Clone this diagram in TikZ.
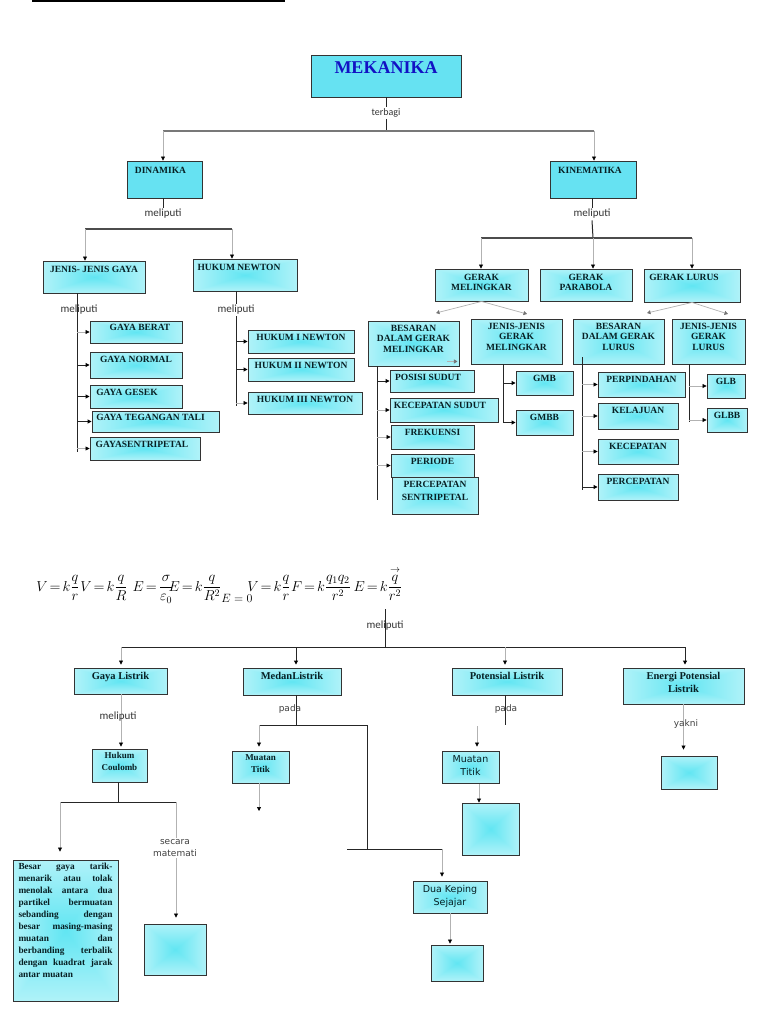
\documentclass[tikz,border=0pt]{standalone}
\usepackage{amsmath}
\usepackage{fontspec}
\setmainfont{Liberation Serif}
\newfontfamily\kalibri{Carlito}
\newfontfamily\dejavu{DejaVu Sans}
\usetikzlibrary{arrows.meta,positioning}
\definecolor{sian}{RGB}{102,226,242}
\definecolor{tinta}{RGB}{8,32,36}
\definecolor{biru}{RGB}{18,18,196}
\definecolor{abu}{RGB}{120,120,120}
% kotak bergradasi: sian di tengah, putih di tepi
\pgfdeclarefunctionalshading{kaca}{\pgfpoint{-50bp}{-50bp}}{\pgfpoint{50bp}{50bp}}{}{
  abs exch abs 2 copy lt {exch} if pop 50 div
  dup 0.62 mul 0.38 add exch
  dup 0.10 mul 0.90 add exch
  0.05 mul 0.95 add
}

\begin{document}
\begin{tikzpicture}[x=1pt,y=-1pt,
  padat/.style={draw=black!80,line width=0.9pt,fill=sian,inner sep=0pt},
  kilau/.style={draw=black!80,line width=0.9pt,shade,shading=kaca,inner sep=0pt},
  judul/.style={anchor=north,yshift=-#1,inner sep=1pt,align=center,text=tinta,
    font=\bfseries\fontsize{9.5}{10.5}\selectfont},
  judul/.default=3pt,
  judulb/.style={judul=#1,font=\bfseries\fontsize{10.5}{13}\selectfont},
  judulb/.default=3pt,
  judulc/.style={judul=#1,font=\dejavu\fontsize{9.5}{13}\selectfont},
  judulc/.default=3.5pt,
  ket/.style={font=\kalibri\fontsize{11}{12}\selectfont,text=black!80,inner sep=1.5pt},
  ketd/.style={font=\dejavu\fontsize{9}{12}\selectfont,text=black!75,inner sep=1pt,align=center},
  rumus/.style={anchor=base,inner sep=0pt,font={\fontsize{14}{17}\selectfont\thickmuskip=2.5mu}},
  tulang/.style={line width=1pt,black!85},
  cabang/.style={line width=1.6pt,black!70},
  hub/.style={line width=2.4pt,abu},
  panah/.style={line width=0.7pt,black!30,-{Triangle[width=4pt,length=4pt,color=black]}},
  panahh/.style={line width=0.9pt,black!85,-{Triangle[width=4pt,length=4pt,color=black]}},
  panahpudar/.style={line width=0.7pt,black!30,-{Triangle[width=4pt,length=3.5pt,color=black!55]}}]
\fill[white] (0,0) rectangle (768,1024);
\useasboundingbox (0,0) rectangle (768,1024);
\draw[line width=2pt] (32,1) -- (285,1);

% mekanika
\node[padat,minimum width=150,minimum height=42,
  label={[judul=6pt,text=biru,font=\bfseries\fontsize{18}{20}\selectfont]north:MEKANIKA}] (mek) at (386,76) {};
\node[ket,font=\kalibri\fontsize{10}{12}\selectfont] (terbagi) at (386,113) {terbagi};
\node[padat,minimum width=75,minimum height=37,label={[judul=5pt,xshift=-4pt]north:DINAMIKA}] (din) at (164.5,179.5) {};
\node[padat,minimum width=86,minimum height=37,label={[judul=5pt,xshift=-3pt]north:KINEMATIKA}] (kin) at (593,179.5) {};
\coordinate (hubL) at (163,131);
\coordinate (hubM) at (386,131);
\coordinate (hubR) at (594,131);
\draw[tulang] (mek.south) -- (terbagi.north);
\draw[tulang] (terbagi.south) -- (hubM);
\draw[hub] (hubL) -- (hubR);
\draw[panah] (hubL) -- (hubL |- din.north);
\draw[panah] (hubR) -- (hubR |- kin.north);

% dinamika
\node[ket] (meldin) at (163,214) {meliputi};
\node[kilau,minimum width=102,minimum height=32,label={[judul=4pt]north:JENIS- JENIS GAYA}] (jg) at (94,277) {};
\node[kilau,minimum width=104,minimum height=32,label={[judul=4pt,xshift=-6pt]north:HUKUM NEWTON}] (hn) at (245,275) {};
\coordinate (dinL) at (85,229);
\coordinate (dinR) at (232,229);
\draw[tulang] (din.south -| meldin) -- (meldin.north);
\draw[cabang] (dinL) -- (dinR);
\draw[panah] (dinL) -- (dinL |- jg.north);
\draw[panah] (dinR) -- (dinR |- hn.north);

% jenis-jenis gaya
\node[kilau,minimum width=92,minimum height=22,label={[judul=2.5pt,xshift=4pt]north:GAYA BERAT}] (berat) at (136,332) {};
\node[kilau,minimum width=92,minimum height=26,label={[judul=3.5pt]north:GAYA NORMAL}] (normal) at (136,365) {};
\node[kilau,minimum width=92,minimum height=23,label={[judul=3.5pt,xshift=-9pt]north:GAYA GESEK}] (gesek) at (136,396.5) {};
\node[kilau,minimum width=127,minimum height=21,label={[judul=2.5pt,xshift=-5pt]north:GAYA TEGANGAN TALI}] (tali) at (155.5,421.5) {};
\node[kilau,minimum width=110,minimum height=23,label={[judul=3.5pt,xshift=-3pt]north:GAYASENTRIPETAL}] (sentri) at (145,448.5) {};
\coordinate (jgS) at (77,452);
\draw[tulang] (jg.south -| jgS) -- (jgS);
\node[ket] (meljg) at (79,310) {meliputi};
\draw[panah] (jgS |- berat.west) -- (berat.west);
\draw[panahh] (jgS |- normal.west) -- (normal.west);
\draw[panahh] (jgS |- gesek.west) -- (gesek.west);
\draw[panahh] (jgS |- tali.west) -- (tali.west);
\draw[panah] (jgS |- sentri.west) -- (sentri.west);

% hukum newton
\node[ket] (melhn) at (236,310) {meliputi};
\node[kilau,minimum width=106,minimum height=23,label={[judul=3pt]north:HUKUM I NEWTON}] (h1) at (301,341.5) {};
\node[kilau,minimum width=106,minimum height=23,label={[judul=3.5pt]north:HUKUM II NEWTON}] (h2) at (301,369.5) {};
\node[kilau,minimum width=114,minimum height=22,label={[judul=3pt]north:HUKUM III NEWTON}] (h3) at (305,403) {};
\coordinate (hnS) at (236,406);
\draw[tulang] (hn.south -| melhn) -- (melhn.north);
\draw[tulang] (melhn.south) -- (hnS);
\draw[panahh] (hnS |- h1.west) -- (h1.west);
\draw[panahh] (hnS |- h2.west) -- (h2.west);
\draw[panah] (hnS |- h3.west) -- (h3.west);

% kinematika
\node[ket] (melkin) at (592,214) {meliputi};
\node[kilau,minimum width=93,minimum height=32,label={[judul=4pt]north:{GERAK\\MELINGKAR}}] (gm) at (481.5,285) {};
\node[kilau,minimum width=92,minimum height=32,label={[judul=4pt]north:{GERAK\\PARABOLA}}] (gp) at (586,285) {};
\node[kilau,minimum width=96,minimum height=33,label={[judul=4pt,xshift=-8pt]north:GERAK LURUS}] (gl) at (692,285.5) {};
\coordinate (kinL) at (481,238);
\coordinate (kinM) at (593,238);
\coordinate (kinR) at (692,238);
\draw[tulang] (kin.south -| melkin) -- (melkin.north);
\draw[tulang] (melkin.south) -- (kinM);
\draw[cabang] (kinL) -- (kinR);
\draw[panah] (kinL) -- (kinL |- gm.north);
\draw[panah] (kinM) -- (kinM |- gp.north);
\draw[panah] (kinR) -- (kinR |- gl.north);

% besaran dan jenis gerak
\node[kilau,minimum width=91,minimum height=45,label={[judul=3pt]north:{BESARAN\\DALAM GERAK\\MELINGKAR}}] (bmel) at (413.5,343.5) {};
\node[kilau,minimum width=91,minimum height=45,label={[judul=3pt]north:{JENIS-JENIS\\GERAK\\MELINGKAR}}] (jmel) at (516.5,341.5) {};
\node[kilau,minimum width=91,minimum height=45,label={[judul=3pt]north:{BESARAN\\DALAM GERAK\\LURUS}}] (blur) at (618.5,341.5) {};
\node[kilau,minimum width=73,minimum height=45,label={[judul=3pt]north:{JENIS-JENIS\\GERAK\\LURUS}}] (jlur) at (708.5,341.5) {};
\coordinate (gmA) at (436,313);
\coordinate (gmB) at (527,314);
\coordinate (glA) at (647,313);
\coordinate (glB) at (728,314);
\draw[panahpudar] (gm.south) -- (gmA);
\draw[panahpudar] (gm.south) -- (gmB);
\draw[panahpudar] (gl.south) -- (glA);
\draw[panahpudar] (gl.south) -- (glB);
\draw[panahpudar] ([shift={(-12,-5)}]bmel.south east) -- ++(10,0);

% besaran gerak melingkar
\node[kilau,minimum width=84,minimum height=22,label={[judul=3.5pt,xshift=-4pt]north:POSISI SUDUT}] (posisi) at (432,381) {};
\node[kilau,minimum width=108,minimum height=24,label={[judul=3pt,xshift=-4pt]north:KECEPATAN SUDUT}] (kecsud) at (444,410) {};
\node[kilau,minimum width=83,minimum height=24,label={[judul=3.5pt]north:FREKUENSI}] (frek) at (432.5,437) {};
\node[kilau,minimum width=83,minimum height=23,label={[judul=3.5pt]north:PERIODE}] (periode) at (432.5,465.5) {};
\node[kilau,minimum width=86,minimum height=37,label={[judul=3pt]north:{PERCEPATAN\\[2.5pt]SENTRIPETAL}}] (pers) at (435,495.5) {};
\coordinate (bmelS) at (377,500);
\draw[tulang] (bmel.south -| bmelS) -- (bmelS);
\draw[panahh] (bmelS |- posisi.west) -- (posisi.west);
\draw[panah] (bmelS |- kecsud.west) -- (kecsud.west);
\draw[panah] (bmelS |- frek.west) -- (frek.west);
\draw[panah] (bmelS |- periode.west) -- (periode.west);

% jenis gerak melingkar
\node[kilau,minimum width=57,minimum height=24,label={[judul=3pt]north:GMB}] (gmb) at (544.5,383) {};
\node[kilau,minimum width=57,minimum height=25,label={[judul=3pt]north:GMBB}] (gmbb) at (544.5,422.5) {};
\coordinate (jmelS) at (503,422);
\draw[tulang] (jmel.south -| jmelS) -- (jmelS);
\draw[panahh] (jmelS |- gmb.west) -- (gmb.west);
\draw[panahh] (jmelS |- gmbb.west) -- (gmbb.west);

% besaran gerak lurus
\node[kilau,minimum width=87,minimum height=25,label={[judul=3.5pt]north:PERPINDAHAN}] (pindah) at (641.5,384.5) {};
\node[kilau,minimum width=80,minimum height=26,label={[judul=3.5pt]north:KELAJUAN}] (laju) at (638,416) {};
\node[kilau,minimum width=80,minimum height=25,label={[judul=3.5pt]north:KECEPATAN}] (kec) at (638,451.5) {};
\node[kilau,minimum width=80,minimum height=26,label={[judul=3.5pt]north:PERCEPATAN}] (perc) at (638,487) {};
\coordinate (blurS) at (582,490);
\draw[tulang] ([yshift=7]blur.south -| blurS) -- (blurS);
\draw[panah] (blurS |- pindah.west) -- (pindah.west);
\draw[panah] (blurS |- laju.west) -- (laju.west);
\draw[panah] (blurS |- kec.west) -- (kec.west);
\draw[panahh] (blurS |- perc.west) -- (perc.west);

% jenis gerak lurus
\node[kilau,minimum width=38,minimum height=24,label={[judul=3pt]north:GLB}] (glb) at (726,386) {};
\node[kilau,minimum width=40,minimum height=24,label={[judul=3pt]north:GLBB}] (glbb) at (727,420) {};
\coordinate (jlurS) at (689,422);
\draw[tulang] (jlur.south -| jlurS) -- (jlurS);
\draw[panah] (jlurS |- glb.west) -- (glb.west);
\draw[panah] (jlurS |- glbb.west) -- (glbb.west);

% rumus listrik
\node[rumus] (eq1) at (58,591) {$V=k\dfrac{q}{r}$};
\node[rumus] (eq2) at (104,591) {$V=k\dfrac{q}{R}$};
\node[rumus] (eq3) at (153,591) {$E=\dfrac{\sigma}{\varepsilon_0}$};
\node[rumus] (eq4) at (195,591) {$E=k\dfrac{q}{R^2}$};
\node[rumus,font=\fontsize{11.5}{14}\selectfont] (eq5) at (237,602) {$E=0$};
\node[rumus] (eq6) at (269,591) {$V=k\dfrac{q}{r}$};
\node[rumus] (eq7) at (321,591) {$F=k\dfrac{q_1q_2}{r^2}$};
\node[rumus] (eq8) at (378,591) {$E=k\dfrac{\overset{\rightarrow}{q}}{r^2}$};
\coordinate (eqS) at (385,609);
\coordinate (hub2M) at (385,647);
\draw[tulang] (eqS) -- (hub2M);
\node[ket] (mellis) at (385,626) {meliputi};

% cabang listrik
\node[kilau,minimum width=93,minimum height=26,label={[judulb]north:Gaya Listrik}] (gl2) at (120.5,681) {};
\node[kilau,minimum width=98,minimum height=27,label={[judulb]north:MedanListrik}] (ml) at (292,681.5) {};
\node[kilau,minimum width=110,minimum height=27,label={[judulb]north:Potensial Listrik}] (pl) at (507,681.5) {};
\node[kilau,minimum width=121,minimum height=36,label={[judulb]north:{Energi Potensial\\Listrik}}] (epl) at (683.5,686) {};
\coordinate (hub2L) at (121,647);
\coordinate (hubml) at (296,647);
\coordinate (hubpl) at (505,647);
\coordinate (hub2R) at (685,647);
\draw[tulang] (hub2L) -- (hub2R);
\draw[panah,shorten >=3pt] (hub2L) -- (hub2L |- gl2.north);
\draw[panahh,shorten >=3pt] (hubml) -- (hubml |- ml.north);
\draw[panah,shorten >=3pt] (hubpl) -- (hubpl |- pl.north);
\draw[panahh,shorten >=3pt] (hub2R) -- (hub2R |- epl.north);

% gaya listrik
\node[kilau,minimum width=55,minimum height=33,label={[judulb=2.5pt,font=\bfseries\fontsize{9}{12}\selectfont]north:{Hukum\\Coulomb}}] (hc) at (119.5,765.5) {};
\draw[panah,shorten >=2pt] (gl2.south -| hub2L) -- (hub2L |- hc.north);
\node[ket] (melgl) at (118,717) {meliputi};
\node[kilau,minimum width=105,minimum height=141,
  label={[anchor=north,yshift=-3.5pt,inner sep=0pt,align=left,text=tinta,
    font=\bfseries\fontsize{9.3}{12}\selectfont]north:{%
    \makebox[94pt][s]{Besar gaya tarik-}\\
    \makebox[94pt][s]{menarik atau tolak}\\
    \makebox[94pt][s]{menolak antara dua}\\
    \makebox[94pt][s]{partikel bermuatan}\\
    \makebox[94pt][s]{sebanding dengan}\\
    \makebox[94pt][s]{besar masing-masing}\\
    \makebox[94pt][s]{muatan dan}\\
    \makebox[94pt][s]{berbanding terbalik}\\
    \makebox[94pt][s]{dengan kuadrat jarak}\\
    antar muatan}}] (desk) at (65.5,930.5) {};
\node[kilau,minimum width=62,minimum height=51] (kos1) at (175,949.5) {};
\coordinate (hcJ) at (118,802);
\coordinate (hcL) at (60,802);
\coordinate (hcR) at (176,802);
\draw[tulang] (hc.south -| hcJ) -- (hcJ);
\draw[tulang] (hcL) -- (hcR);
\draw[panah,shorten >=8pt] (hcL) -- (hcL |- desk.north);
\draw[panah,shorten >=6pt] (hcR) -- (hcR |- kos1.north);
\node[ketd,fill=white] (secara) at (175,848) {secara\\matemati};

% medan listrik
\node[ketd] (pada1) at (290,709) {pada};
\node[kilau,minimum width=57,minimum height=32,label={[judulb=2.5pt,font=\bfseries\fontsize{9}{12}\selectfont]north:{Muatan\\Titik}}] (mt1) at (260.5,767) {};
\node[kilau,minimum width=74,minimum height=32,label={[judulc]north:{Dua Keping\\Sejajar}}] (dks) at (450,897) {};
\node[kilau,minimum width=52,minimum height=36] (kos3) at (457,963) {};
\coordinate (mdJ) at (296,725);
\coordinate (mdL) at (259,725);
\coordinate (mdR) at (367,725);
\coordinate (mdB) at (367,849);
\coordinate (dkL) at (347,849);
\coordinate (dkR) at (442,849);
\coordinate (mt1U) at (259,811);
\draw[tulang] (ml.south -| mdJ) -- (mdJ);
\draw[tulang] (mdL) -- (mdR);
\draw[tulang] (mdR) -- (mdB);
\draw[tulang] (dkL) -- (dkR);
\draw[panah,shorten >=4pt] (mdL) -- (mdL |- mt1.north);
\draw[panah] (mt1.south -| mt1U) -- (mt1U);
\draw[panah,shorten >=4pt] (dkR) -- (dkR |- dks.north);
\draw[panah,shorten >=1pt] (dks.south) -- (dks.south |- kos3.north);

% potensial listrik
\node[ketd] (pada2) at (506,709) {pada};
\node[kilau,minimum width=57,minimum height=32,label={[judulc]north:{Muatan\\Titik}}] (mt2) at (470.5,767) {};
\node[kilau,minimum width=57,minimum height=52] (kos2) at (490.5,829) {};
\coordinate (plJ) at (505,725);
\coordinate (mt2A) at (477,726);
\coordinate (mt2B) at (479,784);
\draw[tulang] (pl.south -| plJ) -- (plJ);
\draw[panah,shorten >=4pt] (mt2A) -- (mt2A |- mt2.north);
\draw[panah] (mt2B) -- (mt2B |- kos2.north);

% energi potensial listrik
\node[kilau,minimum width=56,minimum height=33] (kos4) at (689,772.5) {};
\draw[panah,shorten >=6pt] (epl.south) -- (epl.south |- kos4.north);
\node[ketd] (yakni) at (686,724) {yakni};
\end{tikzpicture}
\end{document}
